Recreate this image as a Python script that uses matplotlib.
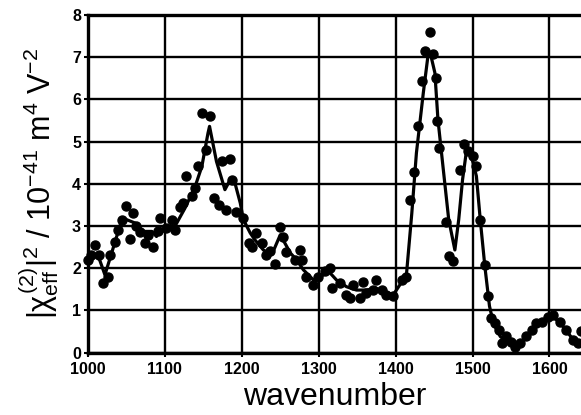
import matplotlib
matplotlib.use("Agg")
import matplotlib.pyplot as plt

plt.rcParams['font.family'] = ['Liberation Sans', 'DejaVu Sans']
plt.rcParams['mathtext.fontset'] = 'custom'
plt.rcParams['mathtext.rm'] = 'Liberation Sans'
plt.rcParams['mathtext.it'] = 'Liberation Sans'
plt.rcParams['mathtext.bf'] = 'Liberation Sans:bold'

# measured points
pt_x = [1000, 1004, 1009, 1014, 1020, 1026, 1029, 1035, 1039, 1044, 1049, 1054,
        1059, 1063, 1068, 1074, 1078, 1085, 1091, 1094, 1102, 1109, 1113, 1120,
        1124, 1128, 1135, 1139, 1143, 1148, 1154, 1159, 1164, 1170, 1174, 1179,
        1185, 1187, 1193, 1202, 1209, 1213, 1218, 1226, 1231, 1236, 1243, 1250,
        1254, 1258, 1269, 1275, 1278, 1284, 1293, 1299, 1308, 1315, 1317, 1328,
        1336, 1340, 1345, 1354, 1358, 1362, 1371, 1375, 1382, 1388, 1397, 1408,
        1414, 1419, 1424, 1429, 1434, 1438, 1445, 1449, 1452, 1454, 1457, 1465,
        1469, 1475, 1484, 1489, 1494, 1501, 1505, 1510, 1516, 1520, 1524, 1529,
        1534, 1538, 1544, 1550, 1555, 1562, 1570, 1577, 1583, 1590, 1598, 1605,
        1614, 1622, 1631, 1637, 1641]
pt_y = [2.2, 2.3, 2.55, 2.3, 1.64, 1.8, 2.3, 2.63, 2.9, 3.15, 3.48, 2.69,
        3.3, 3.0, 2.85, 2.6, 2.79, 2.5, 2.87, 3.19, 2.95, 3.15, 2.9, 3.46,
        3.54, 4.18, 3.7, 3.9, 4.41, 5.68, 4.81, 5.6, 3.66, 3.5, 4.53, 3.38,
        4.59, 4.1, 3.34, 3.19, 2.59, 2.51, 2.84, 2.59, 2.32, 2.4, 2.1, 2.98,
        2.73, 2.39, 2.2, 2.43, 2.2, 1.8, 1.6, 1.8, 1.92, 2.0, 1.52, 1.64,
        1.37, 1.29, 1.6, 1.29, 1.68, 1.41, 1.48, 1.72, 1.48, 1.37, 1.34, 1.72,
        1.8, 3.62, 4.29, 5.36, 6.43, 7.14, 7.6, 7.07, 6.5, 5.48, 4.85, 3.1,
        2.28, 2.16, 4.33, 4.95, 4.77, 4.65, 4.41, 3.15, 2.08, 1.33, 0.81, 0.69,
        0.53, 0.22, 0.38, 0.25, 0.14, 0.22, 0.38, 0.53, 0.69, 0.73, 0.85, 0.89,
        0.73, 0.53, 0.3, 0.22, 0.5]

# fitted curve
fit_x = [1000, 1010, 1015, 1022, 1044, 1050, 1061, 1072, 1083, 1089, 1094, 1102,
         1113, 1126, 1139, 1148, 1156, 1158, 1167, 1178, 1185, 1191, 1198, 1202,
         1211, 1217, 1228, 1239, 1250, 1263, 1271, 1280, 1293, 1299, 1313, 1323,
         1336, 1349, 1362, 1375, 1386, 1397, 1414, 1421, 1427, 1436, 1442, 1445,
         1451, 1455, 1462, 1469, 1477, 1482, 1487, 1492, 1498, 1505, 1510, 1516,
         1522, 1527, 1536, 1547, 1557, 1570, 1583, 1596, 1605, 1618, 1631, 1641]
fit_y = [2.1, 2.3, 2.2, 1.84, 3.15, 3.15, 3.07, 2.87, 2.87, 2.75, 2.87, 2.9,
         2.99, 3.42, 3.92, 4.41, 5.2, 5.36, 4.53, 3.86, 4.1, 4.02, 3.54, 3.15,
         2.83, 2.67, 2.43, 2.32, 2.79, 2.36, 2.2, 1.96, 1.72, 1.76, 1.92, 1.72,
         1.56, 1.48, 1.48, 1.52, 1.44, 1.37, 1.84, 3.3, 4.73, 6.16, 7.03, 7.1,
         6.63, 5.52, 4.33, 3.15, 2.43, 3.15, 4.1, 4.77, 4.69, 4.18, 3.15, 2.04,
         1.1, 0.7, 0.38, 0.22, 0.14, 0.34, 0.61, 0.81, 0.85, 0.61, 0.3, 0.18]

fig = plt.figure(figsize=(5.81, 4.15), dpi=100)
ax = fig.add_axes([0.1515, 0.1506, 0.8485, 0.8133])

ax.plot(fit_x, fit_y, color='black', linewidth=2.3, zorder=3)
ax.plot(pt_x, pt_y, 'o', color='black', markersize=6.5, zorder=4, clip_on=False)

ax.set_xlim(1000, 1641)
ax.set_ylim(0, 8)
ax.set_xticks(range(1000, 1700, 100))
ax.set_yticks(range(0, 9))
ax.grid(True, color='black', linewidth=1.7)
ax.set_axisbelow(True)

for s in ['left', 'top', 'bottom']:
    ax.spines[s].set_linewidth(2.4)
ax.spines['right'].set_visible(False)
ax.tick_params(direction='out', length=3, width=1.5)
ax.tick_params(axis='x', pad=3.5)
ax.tick_params(axis='y', pad=2)
for lab in ax.get_xticklabels() + ax.get_yticklabels():
    lab.set_fontweight('bold')
    lab.set_fontsize(11.5)

ax.set_xlabel('wavenumber', fontsize=23, labelpad=4)
ax.set_ylabel(r'$|\chi^{(2)}_{\mathrm{eff}}|^2$ / 10$^{-41}$ m$^4$ V$^{-2}$',
              fontsize=22, labelpad=8)

fig.savefig('out.png', dpi=100)
